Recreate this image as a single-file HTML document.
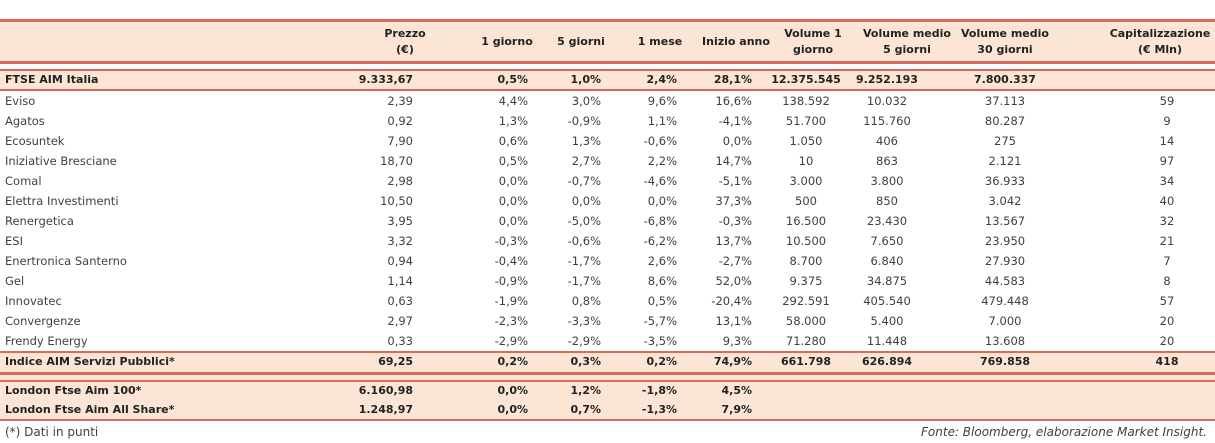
<!DOCTYPE html>
<html><head><meta charset="utf-8"><style>
body{margin:0;width:1215px;height:443px;background:#fff;position:relative;overflow:hidden;font-family:"DejaVu Sans","Liberation Sans",sans-serif;color:#404040}
.fill{position:absolute;left:0;width:1215px;background:#fce5d5}
.ln{position:absolute;left:0;width:1215px;background:#d96a5f}
.c{position:absolute;white-space:nowrap;font-size:11.5px;line-height:14px}
.b{font-weight:bold;font-size:11px;color:#222}
.h{position:absolute;text-align:center;font-weight:bold;font-size:11px;line-height:16px;color:#222;transform:translateX(-50%)}
</style></head><body>
<div class="fill" style="top:20px;height:42px"></div>
<div class="fill" style="top:70px;height:20px"></div>
<div class="fill" style="top:352px;height:69px"></div>
<div class="ln" style="top:19px;height:3px"></div>
<div class="ln" style="top:61px;height:3px"></div>
<div class="ln" style="top:69px;height:2px"></div>
<div class="ln" style="top:89px;height:2px"></div>
<div class="ln" style="top:351px;height:2px"></div>
<div class="ln" style="top:372px;height:3px"></div>
<div class="ln" style="top:380px;height:2px"></div>
<div class="ln" style="top:419px;height:2px"></div>
<div id="t"></div>
<div class="c" style="left:5px;top:425px;font-size:12px">(*) Dati in punti</div>
<div class="c" style="right:8px;top:425px;font-size:12px;font-style:italic">Fonte: Bloomberg, elaborazione Market Insight.</div>
<script>
const headers=[["Prezzo","(€)"],["1 giorno"],["5 giorni"],["1 mese"],["Inizio anno"],["Volume 1","giorno"],["Volume medio","5 giorni"],["Volume medio","30 giorni"],["Capitalizzazione","(€ Mln)"]];
const names=["FTSE AIM Italia","Eviso","Agatos","Ecosuntek","Iniziative Bresciane","Comal","Elettra Investimenti","Renergetica","ESI","Enertronica Santerno","Gel","Innovatec","Convergenze","Frendy Energy","Indice AIM Servizi Pubblici*","London Ftse Aim 100*","London Ftse Aim All Share*"];
const prezzo=["9.333,67","2,39","0,92","7,90","18,70","2,98","10,50","3,95","3,32","0,94","1,14","0,63","2,97","0,33","69,25","6.160,98","1.248,97"];
const g1=["0,5%","4,4%","1,3%","0,6%","0,5%","0,0%","0,0%","0,0%","-0,3%","-0,4%","-0,9%","-1,9%","-2,3%","-2,9%","0,2%","0,0%","0,0%"];
const g5=["1,0%","3,0%","-0,9%","1,3%","2,7%","-0,7%","0,0%","-5,0%","-0,6%","-1,7%","-1,7%","0,8%","-3,3%","-2,9%","0,3%","1,2%","0,7%"];
const m1=["2,4%","9,6%","1,1%","-0,6%","2,2%","-4,6%","0,0%","-6,8%","-6,2%","2,6%","8,6%","0,5%","-5,7%","-3,5%","0,2%","-1,8%","-1,3%"];
const ytd=["28,1%","16,6%","-4,1%","0,0%","14,7%","-5,1%","37,3%","-0,3%","13,7%","-2,7%","52,0%","-20,4%","13,1%","9,3%","74,9%","4,5%","7,9%"];
const v1=["12.375.545","138.592","51.700","1.050","10","3.000","500","16.500","10.500","8.700","9.375","292.591","58.000","71.280","661.798","",""];
const v5=["9.252.193","10.032","115.760","406","863","3.800","850","23.430","7.650","6.840","34.875","405.540","5.400","11.448","626.894","",""];
const v30=["7.800.337","37.113","80.287","275","2.121","36.933","3.042","13.567","23.950","27.930","44.583","479.448","7.000","13.608","769.858","",""];
const cap=["","59","9","14","97","34","40","32","21","7","8","57","20","20","418","",""];
const cols=[prezzo,g1,g5,m1,ytd,v1,v5,v30,cap];
const colX=[413,528,601,677,752,806,887,1005,1167];
const colAlign=["r","r","r","r","r","c","c","c","c"];
const hX=[405,507,581,660,736,813,907,1005,1160];
const rowY=[80,101,121,141,161,181,201,221,241,261,281,301,321,341,362,391,410];
const bold=[0,14,15,16];
const T=document.getElementById('t');
headers.forEach((h,i)=>{const d=document.createElement('div');d.className='h';


d.style.left=hX[i]+'px';d.style.top=(h.length>1?26:34)+'px';d.innerHTML=h.join('<br>');T.appendChild(d);});
names.forEach((n,r)=>{const b=bold.includes(r);
const d=document.createElement('div');d.className='c'+(b?' b':'');


d.style.left='5px';d.style.top=(rowY[r]-7)+'px';d.textContent=n;T.appendChild(d);
cols.forEach((col,ci)=>{const v=col[r];if(!v)return;const e=document.createElement('div');e.className='c'+(b?' b':'');


e.style.top=(rowY[r]-7)+'px';
if(colAlign[ci]=='r'){e.style.right=(1215-colX[ci])+'px';}else{e.style.left=colX[ci]+'px';e.style.transform='translateX(-50%)';}
e.textContent=v;T.appendChild(e);});});
</script>
</body></html>
